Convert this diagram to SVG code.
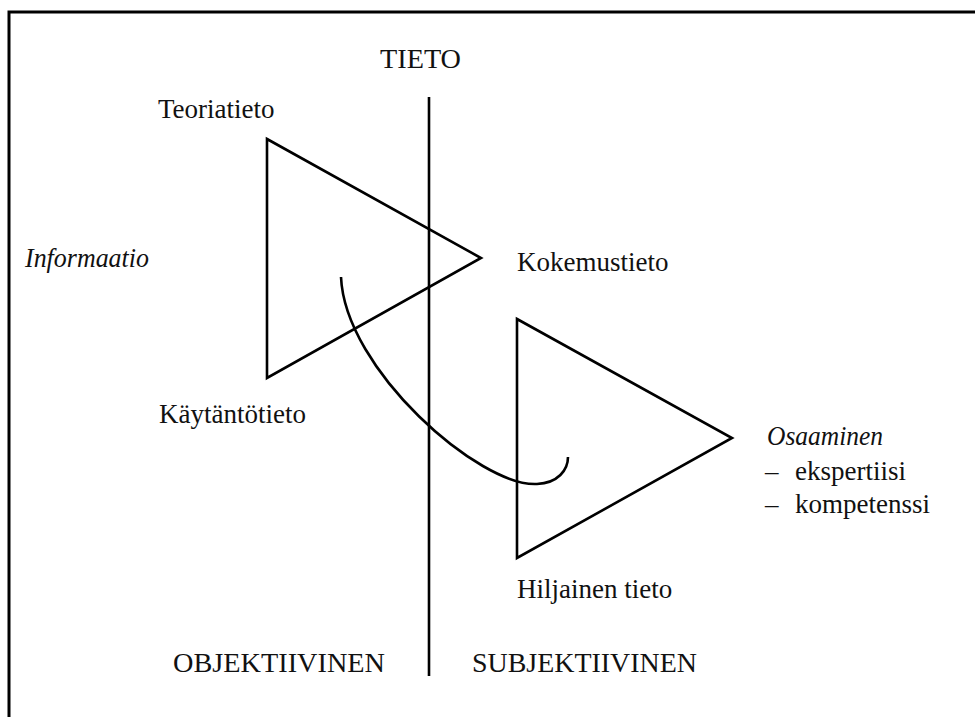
<svg xmlns="http://www.w3.org/2000/svg" width="975" height="717" viewBox="0 0 975 717">
<style>
text{font-family:'Liberation Serif','DejaVu Serif',serif;font-size:27px;fill:#111}
.it{font-style:italic}
.ln{fill:none;stroke:#000;stroke-width:2.6}
</style>
<rect width="975" height="717" fill="#fff"/>
<g id="frame">
<path class="ln" d="M9,717 V12 H975" style="stroke-width:3"/>
</g>
<g id="axis" font-family="Liberation Serif, DejaVu Serif, serif">
<line class="ln" x1="429" y1="97" x2="429" y2="676"/>
<text x="380" y="68" textLength="81" lengthAdjust="spacingAndGlyphs">TIETO</text>
<text x="173" y="672" textLength="212" lengthAdjust="spacingAndGlyphs">OBJEKTIIVINEN</text>
<text x="472" y="672" textLength="225" lengthAdjust="spacingAndGlyphs">SUBJEKTIIVINEN</text>
</g>
<g id="triangle-tieto" font-family="Liberation Serif, DejaVu Serif, serif">
<polygon class="ln" points="267,139 481,258 267,378"/>
<text x="158" y="118">Teoriatieto</text>
<text x="517" y="271">Kokemustieto</text>
<text x="159" y="423">Käytäntötieto</text>
<text class="it" x="25" y="267" textLength="124" lengthAdjust="spacingAndGlyphs">Informaatio</text>
</g>
<g id="triangle-osaaminen" font-family="Liberation Serif, DejaVu Serif, serif">
<polygon class="ln" points="517,319 732,438 517,558"/>
<text x="517" y="598">Hiljainen tieto</text>
<text class="it" x="767" y="445" textLength="116" lengthAdjust="spacingAndGlyphs">Osaaminen</text>
<text x="765" y="480">–</text>
<text x="795" y="480">ekspertiisi</text>
<text x="765" y="513">–</text>
<text x="795" y="513">kompetenssi</text>
</g>
<g id="connectors">
<path class="ln" d="M341,277 C345,370 480,487 537,484 C558,483 568,470 568,457"/>
</g>
</svg>
